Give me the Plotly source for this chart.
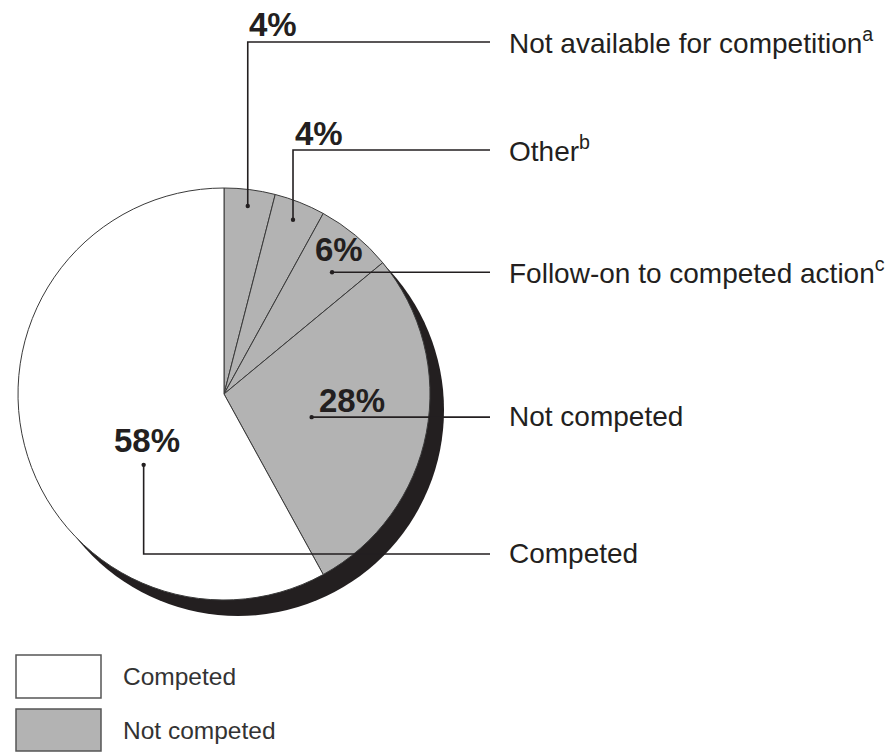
import math
import plotly.graph_objects as go

# ---- data ----
categories = ["Not available for competition", "Other", "Follow-on to competed action",
              "Not competed", "Competed"]
superscripts = ["a", "b", "c", "", ""]
values = [4, 4, 6, 28, 58]
groups = ["Not competed", "Not competed", "Not competed", "Not competed", "Competed"]
legend_items = ["Competed", "Not competed"]

# ---- style / layout (positions in target-image pixels) ----
W, H = 893, 753
CX, CY, R = 224, 394, 206
GREY = "#b3b3b3"
INK = "#231f20"
FONT = "Liberation Sans, Arial, Helvetica, sans-serif"
group_color = {"Competed": "#ffffff", "Not competed": GREY}

anchor_r_frac = [0.92, 0.91, 0.79, 0.44, 0.52]
anchor_dang = [0, 0, 2, 4, -27]
elbow_y = [42, 150, None, None, 554]
# percent label offset relative to (dot x, base y); base = elbow for up-going leaders, dot otherwise
pct_base = ["elbow", "elbow", "dot", "dot", "dot"]
pct_offset = [(-1, -17), (0, -17), (-19, -23), (5, -17), (-32, -24)]
LINE_END_X = 490
LABEL_X = 507


def px(x):
    return x / W


def py(y):
    return 1 - y / H


fig = go.Figure()
fig.add_trace(go.Pie(
    labels=categories,
    values=values,
    sort=False,
    direction="clockwise",
    rotation=0,
    marker=dict(colors=[group_color[g] for g in groups], line=dict(color="#3a3a3a", width=1)),
    textinfo="none",
    hoverinfo="label+percent",
    domain=dict(x=[px(CX - R), px(CX + R)], y=[py(CY + R), py(CY - R)]),
    showlegend=False,
))

shapes = []
annotations = []

# shadow (3D edge) underneath pie
SDX, SDY = 14, 16
shapes.append(dict(type="circle", xref="paper", yref="paper", layer="below",
                   x0=px(CX - R + SDX), x1=px(CX + R + SDX),
                   y0=py(CY + R + SDY), y1=py(CY - R + SDY),
                   fillcolor=INK, line=dict(width=0)))

total = sum(values)
cum = 0
for i, v in enumerate(values):
    mid = (cum + v / 2) / total * 360
    cum += v
    a = math.radians(mid + anchor_dang[i])
    r = anchor_r_frac[i] * R
    dx = CX + r * math.sin(a)
    dy = CY - r * math.cos(a)
    if elbow_y[i] is not None:
        ly = elbow_y[i]
        path = f"M{px(dx)},{py(dy)} L{px(dx)},{py(ly)} L{px(LINE_END_X)},{py(ly)}"
    else:
        ly = dy
        path = f"M{px(dx)},{py(dy)} L{px(LINE_END_X)},{py(ly)}"
    shapes.append(dict(type="path", xref="paper", yref="paper", path=path,
                       line=dict(color=INK, width=1.6)))
    shapes.append(dict(type="circle", xref="paper", yref="paper",
                       x0=px(dx - 2.2), x1=px(dx + 2.2), y0=py(dy + 2.2), y1=py(dy - 2.2),
                       fillcolor=INK, line=dict(width=0)))
    # percent label
    ox, oy = pct_offset[i]
    base_y = ly if pct_base[i] == "elbow" else dy
    annotations.append(dict(xref="paper", yref="paper", x=px(dx + ox), y=py(base_y + oy),
                            xanchor="left", yanchor="middle", showarrow=False,
                            text=f"<b>{round(v / total * 100)}%</b>",
                            font=dict(family=FONT, size=33, color=INK)))
    # category label
    sup = f"<sup>{superscripts[i]}</sup>" if superscripts[i] else ""
    annotations.append(dict(xref="paper", yref="paper", x=px(LABEL_X), y=py(ly - 1),
                            xanchor="left", yanchor="middle", showarrow=False,
                            text=categories[i] + sup,
                            font=dict(family=FONT, size=28, color=INK)))

# custom legend
leg_boxes = [(16, 101, 655, 698), (16, 101, 709, 751)]
for name, (x0, x1, y0, y1) in zip(legend_items, leg_boxes):
    shapes.append(dict(type="rect", xref="paper", yref="paper",
                       x0=px(x0), x1=px(x1), y0=py(y1), y1=py(y0),
                       fillcolor=group_color[name], line=dict(color="#555555", width=1.5)))
    annotations.append(dict(xref="paper", yref="paper", x=px(121), y=py((y0 + y1) / 2),
                            xanchor="left", yanchor="middle", showarrow=False, text=name,
                            font=dict(family=FONT, size=24.5, color="#333333")))

fig.update_layout(
    width=W, height=H,
    margin=dict(l=0, r=0, t=0, b=0),
    paper_bgcolor="white", plot_bgcolor="white",
    shapes=shapes, annotations=annotations,
    showlegend=False,
)

fig.write_html("out.html",
               config={"displayModeBar": False},
               post_script="document.body.style.margin='0';document.body.style.overflow='hidden';")
